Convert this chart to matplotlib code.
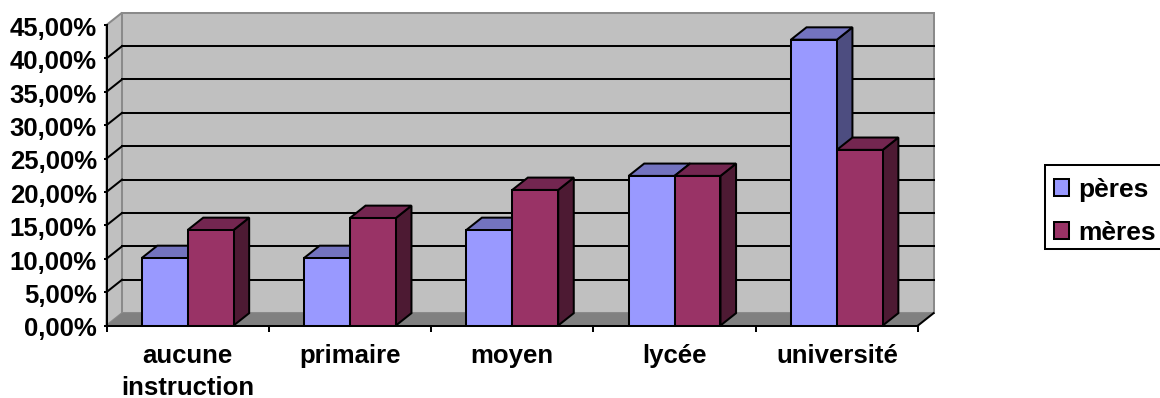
import matplotlib

matplotlib.use("Agg")
import matplotlib.pyplot as plt
from matplotlib.patches import Patch, Rectangle
from matplotlib.transforms import ScaledTranslation

plt.rcParams["font.family"] = ["Liberation Sans", "DejaVu Sans"]

categories = ["aucune\ninstruction", "primaire", "moyen", "lycée", "université"]
peres = [10.1, 10.1, 14.3, 22.4, 42.8]
meres = [14.3, 16.1, 20.3, 22.4, 26.3]
y_ticks = [0, 5, 10, 15, 20, 25, 30, 35, 40, 45]

# per-series shades: front face, top face, side face
PERES_COLORS = ("#9999ff", "#7373bf", "#4d4d80")
MERES_COLORS = ("#993366", "#732650", "#4d1a33")
WALL = "#c0c0c0"
WALL_EDGE = "#8a8a8a"
FLOOR = "#808080"
LW = 1.45
FONT = 18.5

# oblique projection offset of the back plane, in data units
DX = 0.096
DY = 1.85
BAR_W = 0.283


def draw_bar(ax, x0, value, colors):
    """One pseudo-3D column: side and top faces first, then the front."""
    front, top, side = colors
    x1 = x0 + BAR_W
    ax.fill(
        [x1, x1 + DX, x1 + DX, x1],
        [0, DY, value + DY, value],
        facecolor=side, edgecolor="black", linewidth=LW, clip_on=False, zorder=3,
    )
    ax.fill(
        [x0, x1, x1 + DX, x0 + DX],
        [value, value, value + DY, value + DY],
        facecolor=top, edgecolor="black", linewidth=LW, clip_on=False, zorder=3,
    )
    ax.bar(
        x0, value, width=BAR_W, align="edge", color=front,
        edgecolor="black", linewidth=LW, clip_on=False, zorder=3,
    )


fig = plt.figure(figsize=(11.6, 3.98), dpi=100, facecolor="white")
ax = fig.add_axes([106.5 / 1160, 72.5 / 398, 811.5 / 1160, 300.5 / 398])
ax.set_facecolor("none")
ax.set_xlim(0, len(categories))
ax.set_ylim(0, 45)

top_val = y_ticks[-1]
n = len(categories)

# side wall, back wall and floor
ax.fill(
    [0, DX, DX, 0], [0, DY, top_val + DY, top_val],
    facecolor=WALL, edgecolor=WALL_EDGE, linewidth=LW, clip_on=False, zorder=1,
)
ax.fill(
    [DX, n + DX, n + DX, DX], [DY, DY, top_val + DY, top_val + DY],
    facecolor=WALL, edgecolor=WALL_EDGE, linewidth=LW, clip_on=False, zorder=1,
)
ax.fill(
    [0, n, n + DX, DX], [0, 0, DY, DY],
    facecolor=FLOOR, edgecolor="none", clip_on=False, zorder=1,
)
ax.plot([n, n + DX], [0, DY], color="black", linewidth=LW, clip_on=False, zorder=2)

# gridlines wrap from the side wall onto the back wall
for v in y_ticks[1:-1]:
    ax.plot([DX, n + DX], [v + DY, v + DY], color="black", linewidth=LW,
            clip_on=False, zorder=2)
    ax.plot([0, DX], [v, v + DY], color="black", linewidth=LW, clip_on=False, zorder=2)

for i in range(n):
    left = i + 0.5 - BAR_W
    draw_bar(ax, left, peres[i], PERES_COLORS)
    draw_bar(ax, left + BAR_W, meres[i], MERES_COLORS)

for name in ("top", "right"):
    ax.spines[name].set_visible(False)
for name in ("left", "bottom"):
    ax.spines[name].set_linewidth(LW)
    ax.spines[name].set_zorder(4)

ax.set_yticks(y_ticks)
ax.set_yticklabels([f"{v},00%" for v in y_ticks], fontsize=FONT, fontweight="bold")
ax.tick_params(axis="y", length=2, width=LW, pad=5)
# nudge the value labels down a touch so they sit level with their ticks
nudge = ScaledTranslation(0, -1 / 72, fig.dpi_scale_trans)
for label in ax.get_yticklabels():
    label.set_transform(label.get_transform() + nudge)

# boundary ticks between categories, labels centred on minor ticks
ax.set_xticks(range(n + 1))
ax.set_xticklabels([])
ax.set_xticks([i + 0.5 for i in range(n)], minor=True)
ax.set_xticklabels(categories, minor=True, fontsize=FONT, fontweight="bold",
                   linespacing=1.43, va="top")
ax.tick_params(axis="x", which="major", length=4, width=LW)
ax.tick_params(axis="x", which="minor", length=0, pad=13)

# legend frame is its own rectangle, it runs off the right edge of the figure
fig.add_artist(Rectangle(
    (1045 / 1160, 1 - 249 / 398), 130 / 1160, 84 / 398,
    transform=fig.transFigure, facecolor="white", edgecolor="black", linewidth=LW,
))
handles = [
    Patch(facecolor=PERES_COLORS[0], edgecolor="black", linewidth=LW, label="pères"),
    Patch(facecolor=MERES_COLORS[0], edgecolor="black", linewidth=LW, label="mères"),
]
fig.legend(
    handles=handles,
    loc="center left",
    bbox_to_anchor=(1045 / 1160, 1 - 211.5 / 398),
    borderaxespad=0,
    prop={"weight": "bold", "size": 19},
    handlelength=0.58,
    handleheight=0.58,
    handletextpad=0.34,
    labelspacing=0.72,
    borderpad=0.34,
    frameon=False,
)

fig.savefig("out.png", dpi=100)
plt.close(fig)
